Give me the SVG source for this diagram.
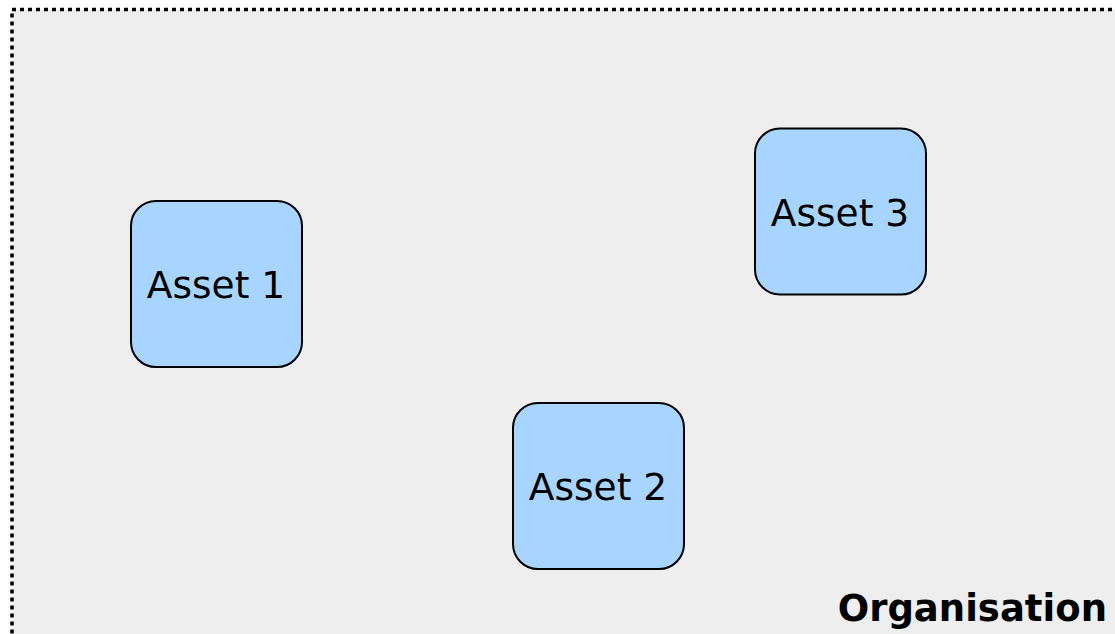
<svg xmlns="http://www.w3.org/2000/svg" width="1115" height="634" viewBox="0 0 1115 634">
<style>
.asset rect{fill:#a8d5ff;stroke:#000;stroke-width:2}
.asset text{font-family:"DejaVu Sans",Verdana,sans-serif;font-size:37.5px;fill:#000;text-anchor:middle}
.org{font-family:"DejaVu Sans",Verdana,sans-serif;font-size:37px;font-weight:bold;fill:#000;text-anchor:end}
</style>
<rect width="1115" height="634" fill="#ffffff"/>
<g id="organisation">
<rect x="12" y="9.5" width="1120" height="640" fill="#eeeeee" stroke="#000" stroke-width="3.5" stroke-dasharray="4 4"/>
<text class="org" x="1107" y="621">Organisation</text>
</g>
<g id="connectors"></g>
<g id="asset1" class="asset">
<rect x="131" y="201" width="171" height="166" rx="25" ry="25"/>
<text x="216" y="298">Asset 1</text>
</g>
<g id="asset2" class="asset">
<rect x="513" y="403" width="171" height="166" rx="25" ry="25"/>
<text x="598" y="500">Asset 2</text>
</g>
<g id="asset3" class="asset">
<rect x="755" y="128.5" width="171" height="166" rx="25" ry="25"/>
<text x="840" y="226">Asset 3</text>
</g>
</svg>
